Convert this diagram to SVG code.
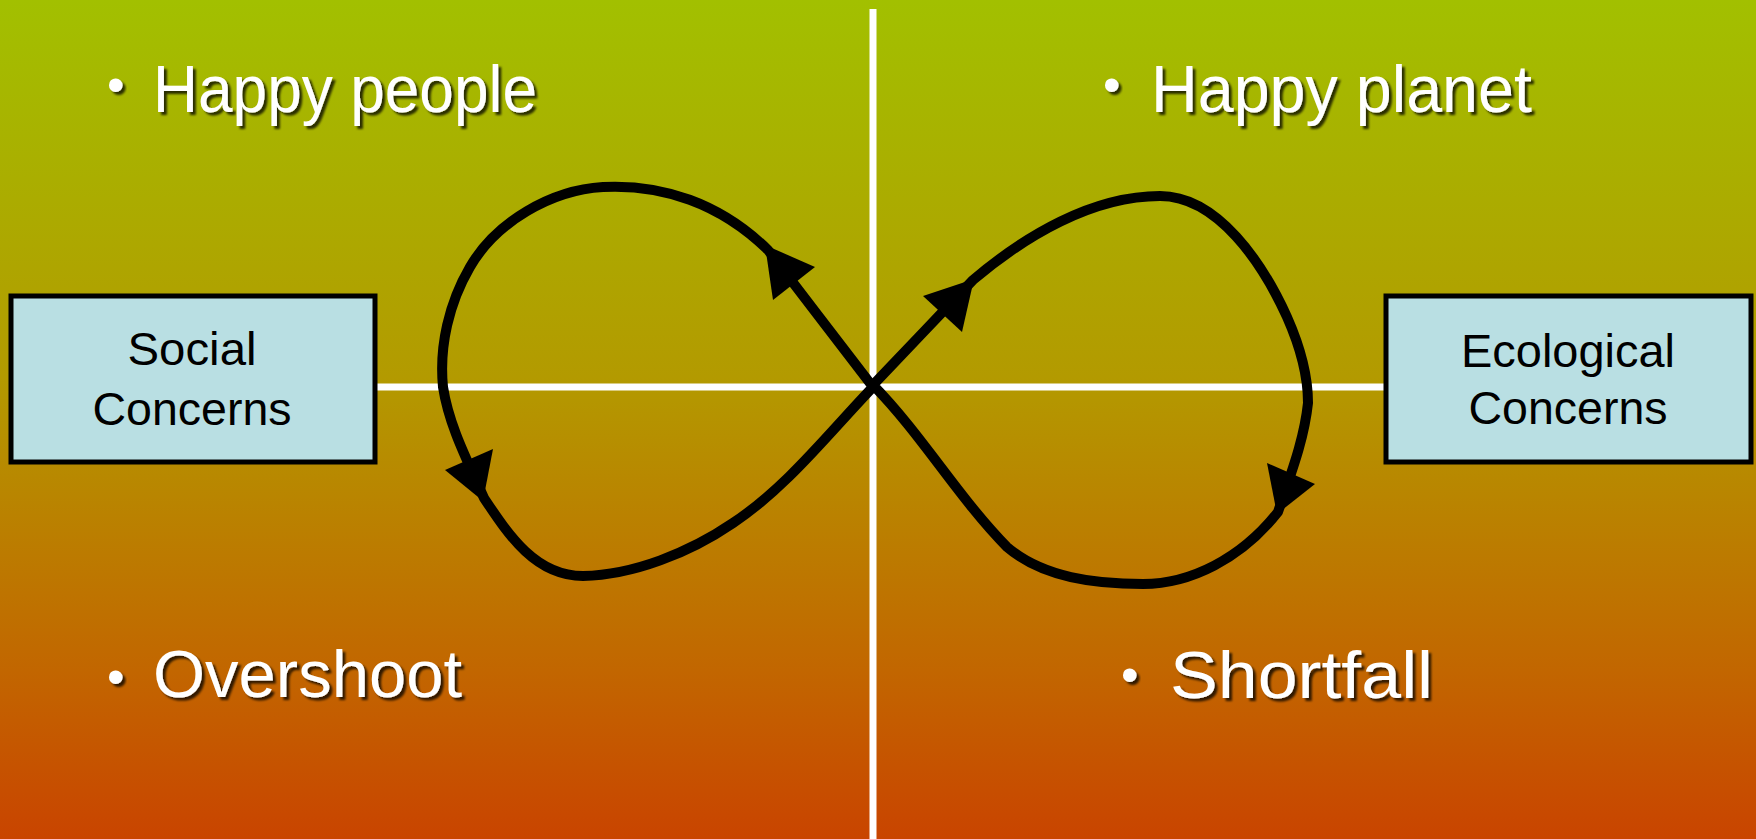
<svg xmlns="http://www.w3.org/2000/svg" width="1756" height="839" viewBox="0 0 1756 839">
<defs>
<linearGradient id="bg" x1="0" y1="0" x2="0" y2="1">
<stop offset="0" stop-color="#a2c000"/>
<stop offset="0.45" stop-color="#b39a00"/>
<stop offset="0.8" stop-color="#c26600"/>
<stop offset="1" stop-color="#c94400"/>
</linearGradient>
<filter id="sh" x="-10%" y="-30%" width="120%" height="160%">
<feDropShadow dx="3" dy="3" stdDeviation="1.2" flood-color="#000" flood-opacity="0.75"/>
</filter>
</defs>
<style>
.lbl{font-family:"Liberation Sans",Arial,sans-serif;font-size:66px;fill:#fff;filter:url(#sh)}
.bul{font-family:"Liberation Sans",Arial,sans-serif;font-size:50px;fill:#fff;filter:url(#sh)}
.box{fill:#b9dfe3;stroke:#000;stroke-width:5}
.bt{font-family:"Liberation Sans",Arial,sans-serif;font-size:46px;fill:#000;text-anchor:middle}
.ax{stroke:#fff;stroke-width:7;fill:none}
.cv{stroke:#000;stroke-width:10;fill:none;stroke-linejoin:round}
.ah{fill:#000}
</style>
<rect width="1756" height="839" fill="url(#bg)"/>
<g id="axes">
<line class="ax" x1="873" y1="9" x2="873" y2="839"/>
<line class="ax" x1="377" y1="387" x2="1384" y2="387"/>
</g>
<g id="social">
<rect class="box" x="11" y="296" width="364" height="166"/>
<text class="bt" x="192" y="365" textLength="129" lengthAdjust="spacingAndGlyphs">Social</text>
<text class="bt" x="192" y="425" textLength="199" lengthAdjust="spacingAndGlyphs">Concerns</text>
</g>
<g id="ecological">
<rect class="box" x="1386" y="296" width="365" height="166"/>
<text class="bt" x="1568" y="367" textLength="214" lengthAdjust="spacingAndGlyphs">Ecological</text>
<text class="bt" x="1568" y="424" textLength="199" lengthAdjust="spacingAndGlyphs">Concerns</text>
</g>
<g id="happy-people">
<text class="bul" x="107" y="102">•</text>
<text class="lbl" x="153" y="112" textLength="384" lengthAdjust="spacingAndGlyphs">Happy people</text>
</g>
<g id="happy-planet">
<text class="bul" x="1103" y="102">•</text>
<text class="lbl" x="1151" y="112" textLength="381" lengthAdjust="spacingAndGlyphs">Happy planet</text>
</g>
<g id="overshoot">
<text class="bul" x="107" y="694">•</text>
<text class="lbl" x="153" y="697" textLength="309" lengthAdjust="spacingAndGlyphs">Overshoot</text>
</g>
<g id="shortfall">
<text class="bul" x="1121" y="692">•</text>
<text class="lbl" x="1170" y="698" textLength="263" lengthAdjust="spacingAndGlyphs">Shortfall</text>
</g>
<g id="connectors">
<path class="cv" d="M 873 387 C 845 351 795 285 768 250 C 720 203 662 184 603 187 C 551 190 496 222 470 267 C 449 303 439 346 443 387 C 449 426 468 462 484 498 C 508 534 535 576 583 576 C 633 575 689 553 733 523 C 787 487 828 434 873 387"/>
<path class="cv" d="M 873 385 C 900 357 945 309 973 280 C 1025 236 1092 196 1160 196 C 1218 196 1263 264 1287 317 C 1299 344 1308 374 1308 403 C 1304 441 1290 476 1278 512 C 1241 559 1190 584 1143 584 C 1096 584 1043 578 1007 547 C 958 497 922 435 873 385"/>
<polygon class="ah" points="765,245 773,300 815,267"/>
<polygon class="ah" points="445,470 493,449 483,501"/>
<polygon class="ah" points="974,279 923,296 962,332"/>
<polygon class="ah" points="1267,463 1315,484 1277,514"/>
</g>
</svg>
